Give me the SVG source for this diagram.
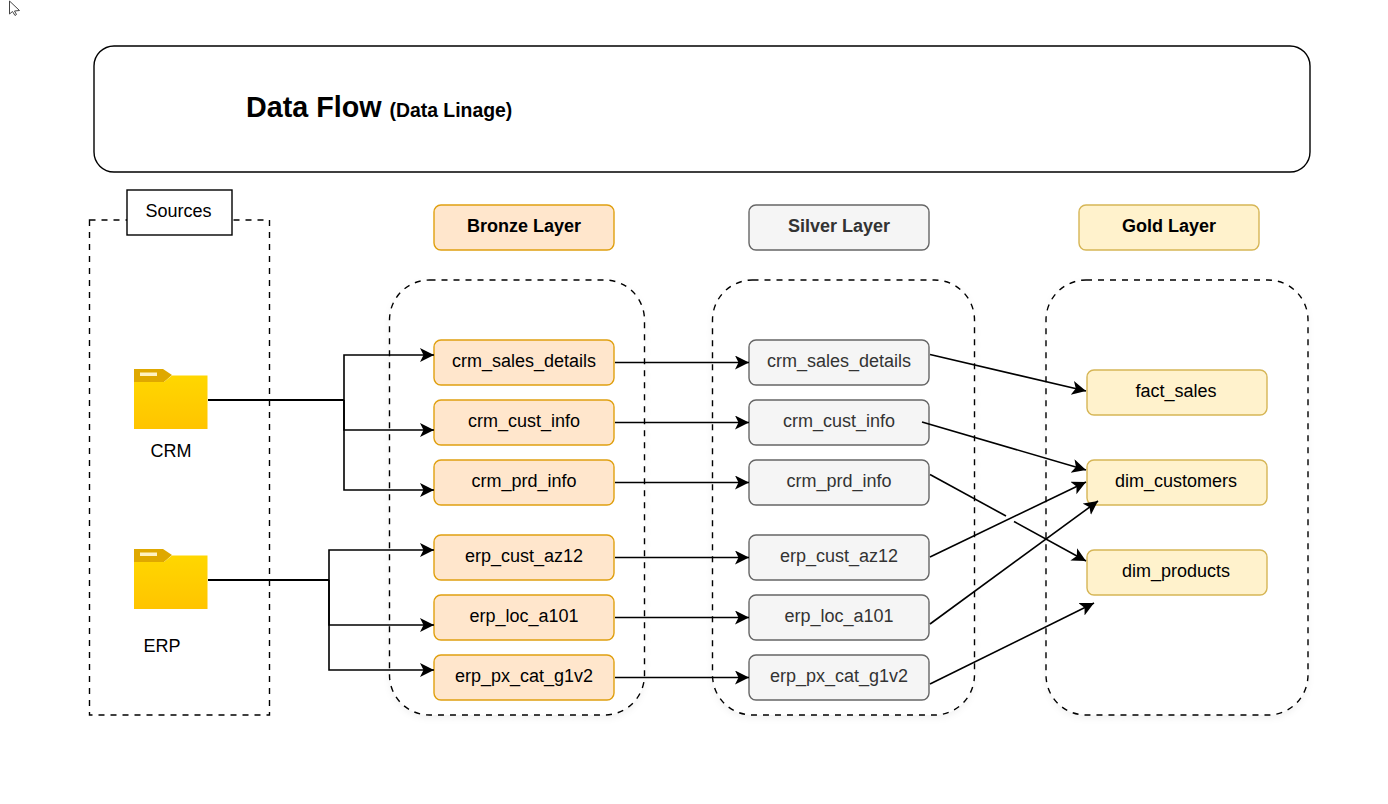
<svg xmlns="http://www.w3.org/2000/svg" width="1388" height="804" viewBox="0 0 1388 804">
<style>
text{font-family:"Liberation Sans",Arial,sans-serif;font-size:18px;text-anchor:middle;fill:#000}
.b{fill:#ffe6cc;stroke:#e0a010;stroke-width:1.4}
.s{fill:#f5f5f5;stroke:#666;stroke-width:1.4}
.g{fill:#fff2cc;stroke:#d6b656;stroke-width:1.4}
.st{fill:#333}
.h{font-weight:bold;font-size:18px}
.d{fill:#fff;stroke:#000;stroke-width:1.4;stroke-dasharray:6 6}
.c{fill:none;stroke:#000;stroke-width:1.6;marker-end:url(#a)}
.p{fill:none;stroke:#000;stroke-width:1.6}
.t{stroke-width:2}
</style>
<defs>
<marker id="a" markerUnits="userSpaceOnUse" markerWidth="16" markerHeight="16" refX="14" refY="7" orient="auto">
<path d="M0 0L14 7L0 14L3.500 7Z" fill="#000"/>
</marker>
<linearGradient id="fg" x1="0" y1="0" x2="0" y2="1"><stop offset="0" stop-color="#ffd700"/><stop offset="1" stop-color="#ffc400"/></linearGradient>
<filter id="sh" x="-10%" y="-10%" width="120%" height="120%"><feDropShadow dx="0" dy="3" stdDeviation="3" flood-color="#000" flood-opacity="0.05"/></filter>
<g id="folder">
<path d="M0 0H29L38 6L30 13H0Z" fill="#dfa800"/>
<rect x="6" y="3.500" width="17" height="3.500" fill="#fff2c0"/>
<path d="M0 13H30L38 6.500H73.500V60H0Z" fill="url(#fg)"/>
</g>
</defs>
<rect width="1388" height="804" fill="#fff"/>
<path id="cursor" d="M9.500 1V14L12.500 11.500L15 15.500L16.500 14.500L14.500 11L19.500 10.500Z" fill="#fff" stroke="#444" stroke-width="1"/>
<g id="title">
<rect x="94" y="46" width="1216" height="126" rx="20" fill="#fff" stroke="#000" stroke-width="1.4"/>
<text x="246" y="116.500" style="text-anchor:start;font-weight:bold;font-size:28.700px">Data Flow <tspan style="font-size:19.400px">(Data Linage)</tspan></text>
</g>
<g id="sources-group">
<rect class="d" x="89.500" y="220" width="180" height="495"/>
<rect x="127" y="190" width="105" height="45" fill="#fff" stroke="#000" stroke-width="1.4"/>
<text x="178.500" y="216.500">Sources</text>
</g>
<g id="containers">
<rect class="d" filter="url(#sh)" x="389.500" y="280" width="255" height="435" rx="40"/>
<rect class="d" filter="url(#sh)" x="712.500" y="280" width="262" height="435" rx="40"/>
<rect class="d" filter="url(#sh)" x="1046" y="280" width="262" height="435" rx="40"/>
</g>
<g id="crm-source"><use href="#folder" x="134" y="369"/><text x="171" y="456.500">CRM</text></g>
<g id="erp-source"><use href="#folder" x="134" y="549"/><text x="162" y="651.500">ERP</text></g>
<g id="bronze-layer"><rect class="b" x="434" y="205" width="180" height="45" rx="7"/><text class="h" x="524" y="231.500">Bronze Layer</text></g>
<g id="silver-layer"><rect class="s" x="749" y="205" width="180" height="45" rx="7"/><text class="h st" x="839" y="231.500">Silver Layer</text></g>
<g id="gold-layer"><rect class="g" x="1079" y="205" width="180" height="45" rx="7"/><text class="h" x="1169" y="231.500">Gold Layer</text></g>
<g id="b1"><rect class="b" x="434" y="340" width="180" height="45" rx="7"/><text x="524" y="366.500">crm_sales_details</text></g>
<g id="b2"><rect class="b" x="434" y="400" width="180" height="45" rx="7"/><text x="524" y="426.500">crm_cust_info</text></g>
<g id="b3"><rect class="b" x="434" y="460" width="180" height="45" rx="7"/><text x="524" y="486.500">crm_prd_info</text></g>
<g id="b4"><rect class="b" x="434" y="535" width="180" height="45" rx="7"/><text x="524" y="561.500">erp_cust_az12</text></g>
<g id="b5"><rect class="b" x="434" y="595" width="180" height="45" rx="7"/><text x="524" y="621.500">erp_loc_a101</text></g>
<g id="b6"><rect class="b" x="434" y="655" width="180" height="45" rx="7"/><text x="524" y="681.500">erp_px_cat_g1v2</text></g>
<g id="s1"><rect class="s" x="749" y="340" width="180" height="45" rx="7"/><text class="st" x="839" y="366.500">crm_sales_details</text></g>
<g id="s2"><rect class="s" x="749" y="400" width="180" height="45" rx="7"/><text class="st" x="839" y="426.500">crm_cust_info</text></g>
<g id="s3"><rect class="s" x="749" y="460" width="180" height="45" rx="7"/><text class="st" x="839" y="486.500">crm_prd_info</text></g>
<g id="s4"><rect class="s" x="749" y="535" width="180" height="45" rx="7"/><text class="st" x="839" y="561.500">erp_cust_az12</text></g>
<g id="s5"><rect class="s" x="749" y="595" width="180" height="45" rx="7"/><text class="st" x="839" y="621.500">erp_loc_a101</text></g>
<g id="s6"><rect class="s" x="749" y="655" width="180" height="45" rx="7"/><text class="st" x="839" y="681.500">erp_px_cat_g1v2</text></g>
<g id="g1"><rect class="g" x="1087" y="370" width="180" height="45" rx="7"/><text x="1176" y="396.500">fact_sales</text></g>
<g id="g2"><rect class="g" x="1087" y="460" width="180" height="45" rx="7"/><text x="1176" y="486.500">dim_customers</text></g>
<g id="g3"><rect class="g" x="1087" y="550" width="180" height="45" rx="7"/><text x="1176" y="576.500">dim_products</text></g>
<g id="connectors">
<path class="p t" d="M208 400H344"/>
<path class="c" d="M344 400V355H434"/>
<path class="c" d="M344 400V430H434"/>
<path class="c" d="M344 400V490H434"/>
<path class="p t" d="M208 580H329"/>
<path class="c" d="M329 580V550H434"/>
<path class="c" d="M329 580V625H434"/>
<path class="c" d="M329 580V670H434"/>
<path class="c" d="M615 362.500H749"/>
<path class="c" d="M615 422.500H749"/>
<path class="c" d="M615 482.500H749"/>
<path class="c" d="M615 557.500H749"/>
<path class="c" d="M615 617.500H749"/>
<path class="c" d="M615 677.500H749"/>
<path class="c" d="M930 354.500L1086 391"/>
<path class="c" d="M922 422L1086 470"/>
<path class="p" d="M930 474.500L1006 516"/>
<path class="c" d="M1014 521.500L1086 561"/>
<path class="c" d="M930 557L1086 482"/>
<path class="c" d="M930 624L1098 501"/>
<path class="c" d="M930 684L1094 603"/>
</g>
</svg>
